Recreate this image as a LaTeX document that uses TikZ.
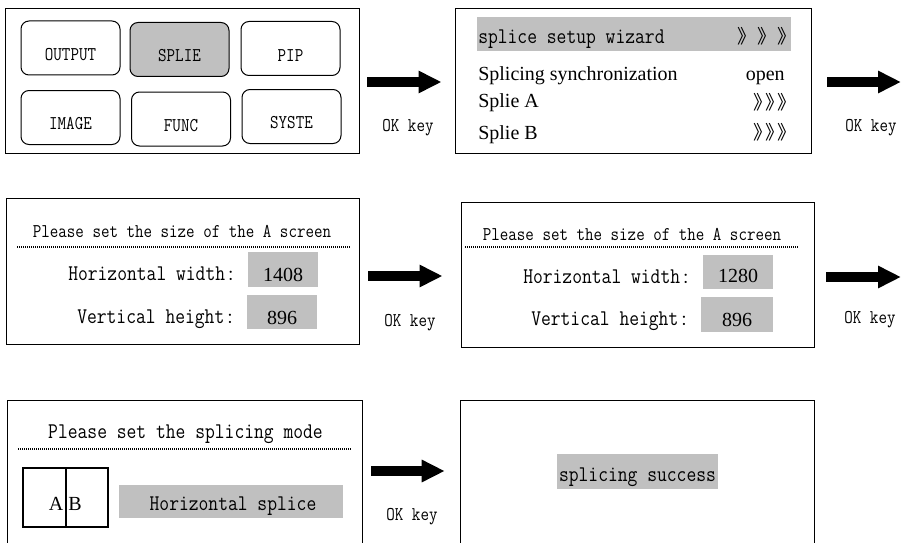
\documentclass[tikz,border=0pt]{standalone}
\usepackage{fontspec}
\setmainfont{Liberation Serif}
\newfontfamily\monof[FakeStretch=0.85]{Latin Modern Mono}
\newfontfamily\cjkf{Noto Sans CJK SC}
\usetikzlibrary{arrows.meta}
\newdimen\upx \upx=0.75pt
\definecolor{hlgray}{HTML}{C0C0C0}
\newcommand\smallmono{\fontsize{14.6}{16}\monof}
\newcommand\bigmono{\fontsize{16.8}{19}\monof}
\newcommand\serifsz{\fontsize{15}{18}\selectfont}
\newcommand\arrsz{\fontsize{14.3}{16}\cjkf}
\newcommand\fwcolon{\kern1.5pt{\fontsize{11}{13}\cjkf ：}}
\tikzset{
  frame/.style={draw, line width=0.7pt, inner sep=0pt},
  btn/.style={draw, rounded corners=8\upx, line width=0.75pt, minimum width=99\upx,
    minimum height=54\upx, inner sep=0pt, text height=25\upx, text depth=0pt, font=\smallmono},
  hl/.style={fill=hlgray, inner sep=0pt},
  bigarr/.style={line width=7.5pt, -{Triangle[length=17.25pt, width=15.75pt]}},
  okkey/.style={font=\smallmono, inner sep=0pt},
  mtxt/.style={font=\bigmono, inner sep=0pt},
  stxt/.style={font=\serifsz, inner sep=0pt},
  atxt/.style={font=\arrsz, inner sep=0pt},
  sep/.style={line width=0.9pt, dash pattern=on 0.75pt off 0.75pt},
}
\begin{document}
\begin{tikzpicture}[x=0.75pt, y=-0.75pt]
\useasboundingbox[fill=white] (0,0) rectangle (902,542);

% ---------- Box 1: main menu ----------
\node[frame, minimum width=354\upx, minimum height=145\upx] (b1) at (182,80.5) {};
\node[btn] (m1) at (70.5,48) {OUTPUT};
\node[btn, fill=hlgray] (m2) at (179.5,49.5) {SPLIE};
\node[btn] (m3) at (290.5,48.5) {PIP};
\node[btn, text height=24\upx] (m4) at (70.5,117.5) {IMAGE};
\node[btn, text height=24\upx] (m5) at (181,119) {FUNC};
\node[btn, text height=24\upx] (m6) at (291.5,116.5) {SYSTE};

% ---------- Box 2: splice menu ----------
\node[frame, minimum width=356\upx, minimum height=145\upx] (b2) at (633,80.5) {};
\node[hl, minimum width=314\upx, minimum height=34\upx] (bar) at (634,34) {};
\node[mtxt, anchor=base west] (r1) at (478,44) {splice setup wizard};
\node[atxt, anchor=west] (r1a) at (737,36) {》\kern0.75pt》\kern0.75pt》};
\node[stxt, anchor=base west] (r2) at (478,80) {Splicing synchronization};
\node[stxt, anchor=base east] (r2a) at (785,80) {open};
\node[stxt, anchor=base west] (r3) at (478,108) {Splie A};
\node[atxt, anchor=west] (r3a) at (753,102.5) {》\kern-5.25pt》\kern-5.25pt》};
\node[stxt, anchor=base west] (r4) at (478,139) {Splie B};
\node[atxt, anchor=west] (r4a) at (753,132.5) {》\kern-5.25pt》\kern-5.25pt》};

% ---------- Box 3: size 1408 ----------
\node[frame, minimum width=353\upx, minimum height=146\upx] (b3) at (182.5,271) {};
\node[okkey, anchor=base] (t3) at (182,237) {Please set the size of the A screen};
\draw[sep] (17,247) -- (351,247);
\node[mtxt, anchor=base west] (h3) at (68,280.5) {Horizontal width\fwcolon};
\node[hl, stxt, minimum width=70\upx, minimum height=35\upx, text height=23\upx, text depth=0pt] (v3a) at (283,269.5) {1408};
\node[mtxt, anchor=base west] (w3) at (77,323) {Vertical height\fwcolon};
\node[hl, stxt, minimum width=70\upx, minimum height=34\upx, text height=24\upx, text depth=0pt] (v3b) at (282,312) {896};

% ---------- Box 4: size 1280 ----------
\node[frame, minimum width=353\upx, minimum height=145\upx] (b4) at (637.5,274.5) {};
\node[okkey, anchor=base] (t4) at (632,240) {Please set the size of the A screen};
\draw[sep] (465,247) -- (799,247);
\node[mtxt, anchor=base west] (h4) at (523,283.3) {Horizontal width\fwcolon};
\node[hl, stxt, minimum width=70\upx, minimum height=34\upx, text height=21\upx, text depth=0pt] (v4a) at (738,272) {1280};
\node[mtxt, anchor=base west] (w4) at (531,325) {Vertical height\fwcolon};
\node[hl, stxt, minimum width=72\upx, minimum height=35\upx, text height=24\upx, text depth=0pt] (v4b) at (737,314.5) {896};

% ---------- Box 5: splicing mode ----------
\node[minimum width=354\upx, minimum height=146\upx, inner sep=0pt] (b5) at (185,474) {};
\draw[line width=0.7pt] (b5.south west) |- (b5.north east) -- (b5.south east);
\node[mtxt, anchor=base] (t5) at (185.5,438.3) {Please set the splicing mode};
\draw[sep] (18,449) -- (352,449);
\node[draw, line width=0.8pt, minimum width=85\upx, minimum height=59\upx, inner sep=0pt] (ab) at (65.5,497.5) {};
\draw[line width=1.65pt] ([xshift=0.8\upx]ab.north) -- ([xshift=0.8\upx]ab.south);
\node[stxt, anchor=base east] (la) at (63.5,510.7) {A};
\node[stxt, anchor=base west] (lb) at (68,510.7) {B};
\node[hl, mtxt, minimum width=224\upx, minimum height=33\upx, text height=18.4\upx, text depth=0pt] (hs) at (231,501.5) {\hspace{4\upx}Horizontal splice};

% ---------- Box 6: success ----------
\node[minimum width=353\upx, minimum height=146\upx, inner sep=0pt] (b6) at (637.5,474) {};
\draw[line width=0.7pt] (b6.south west) |- (b6.north east) -- (b6.south east);
\node[hl, mtxt, minimum width=161\upx, minimum height=35\upx, text height=20.4\upx, text depth=0pt] (ss) at (637.5,471.5) {splicing success};

% ---------- Arrows ----------
\coordinate (e2) at (901,82);
\coordinate (e4) at (901,277);
\draw[bigarr] ([xshift=6pt,yshift=-1.125pt]b1.east) -- ([xshift=-9.75pt,yshift=-1.125pt]b2.west);
\draw[bigarr] ([xshift=12pt,yshift=-1.125pt]b2.east) -- (e2);
\draw[bigarr] ([xshift=6.75pt,yshift=-3.75pt]b3.east) -- ([xshift=-13.5pt,yshift=-1.125pt]b4.west);
\draw[bigarr] ([xshift=9pt,yshift=-1.875pt]b4.east) -- (e4);
\draw[bigarr] ([xshift=6.75pt,yshift=2.25pt]b5.east) -- ([xshift=-12pt,yshift=2.25pt]b6.west);

\node[okkey] (k1) at (408,128) {OK key};
\node[okkey] (k2) at (871,128) {OK key};
\node[okkey] (k3) at (410,323) {OK key};
\node[okkey] (k4) at (870,320) {OK key};
\node[okkey] (k5) at (412,517) {OK key};
\end{tikzpicture}
\end{document}
